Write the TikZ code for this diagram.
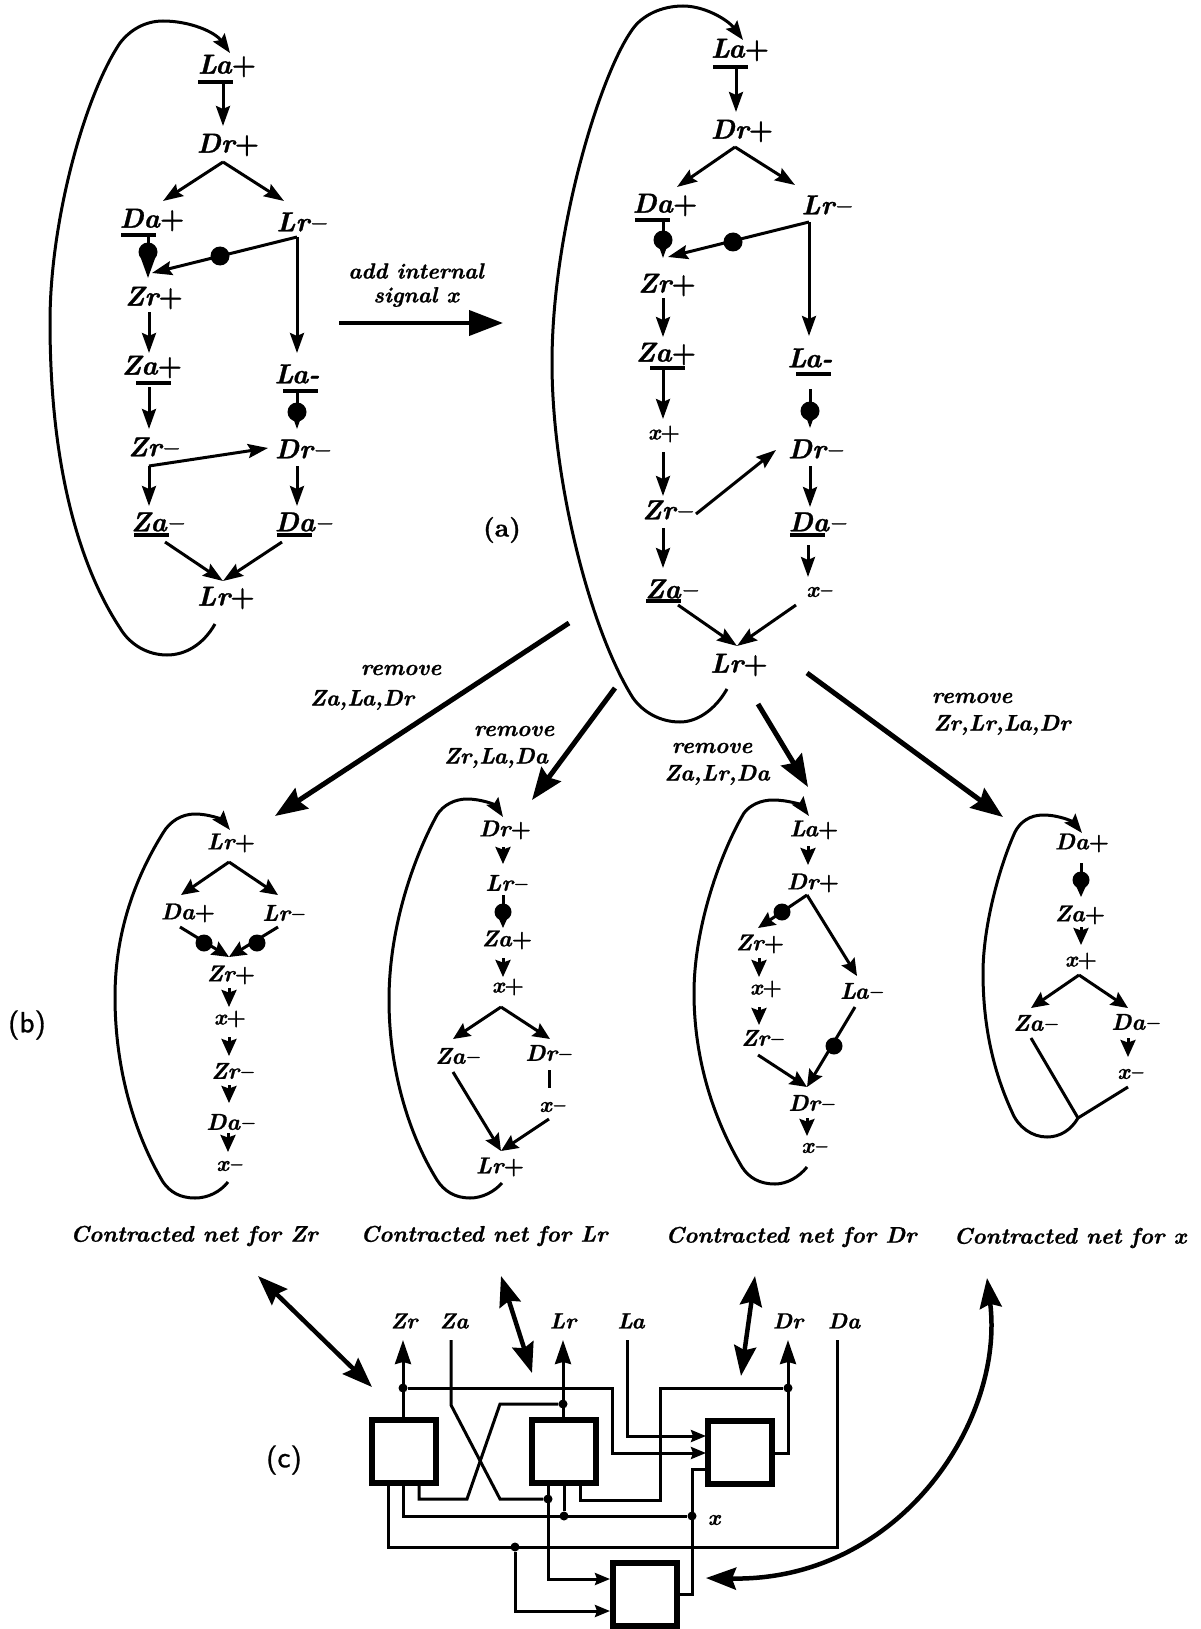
\documentclass[tikz,border=0pt]{standalone}
\usepackage{fontspec}
\usetikzlibrary{arrows.meta}
\newfontface\bxi{lmroman10-bolditalic.otf}[FakeBold=1]
\newfontface\bxu{lmroman10-bold.otf}[FakeBold=1]
\newfontface\ssf{lmsans10-regular.otf}[FakeBold=1]
\newcommand{\Pl}{{\bxu +}}
\newcommand{\Mi}{\textendash}
\tikzset{
  lab/.style={inner sep=0pt,font=\bxi\fontsize{27.5}{27.5}\selectfont},
  nettxt/.style={inner sep=0pt,font=\bxi\fontsize{23}{23}\selectfont},
  smtxt/.style={inner sep=0pt,font=\bxi\fontsize{22}{22}\selectfont},
  remtxt/.style={inner sep=0pt,font=\bxi\fontsize{22.5}{22.5}\selectfont},
  captxt/.style={inner sep=0pt,font=\bxi\fontsize{22.5}{22.5}\selectfont},
  tagtxt/.style={inner sep=0pt,font=\ssf\fontsize{29}{29}\selectfont},
  tagbx/.style={inner sep=0pt,font=\bxu\fontsize{26}{26}\selectfont},
  ul/.style={fill=black,inner sep=0pt,minimum width=35pt,minimum height=3.4pt},
  dotn/.style={circle,fill=black,inner sep=0pt,minimum size=19pt},
  dotm/.style={circle,fill=black,inner sep=0pt,minimum size=17pt},
  jn/.style={circle,fill=black,inner sep=0pt,minimum size=9pt},
  ar/.style={line width=3pt,-{Stealth[length=20pt,width=14pt,inset=3pt]}},
  arn/.style={line width=3pt,-{Stealth[length=17pt,width=15pt,inset=2.5pt]}},
  pl/.style={line width=3pt},
  lp/.style={line width=3pt,-{Stealth[length=19pt,width=14pt,inset=3pt]}},
  bigar/.style={line width=5pt,-{Stealth[length=32pt,width=24pt,inset=4pt]}},
  addar/.style={line width=4pt,-{Stealth[length=34pt,width=25pt,inset=0pt]}},
  dbl/.style={line width=4.5pt,{Stealth[length=30pt,width=22pt,inset=4pt]}-{Stealth[length=30pt,width=22pt,inset=4pt]}},
  wire/.style={line width=3pt},
  wa/.style={line width=3pt,-{Stealth[length=15pt,width=12pt,inset=2pt]}},
  wt/.style={line width=3pt,-{Stealth[length=24pt,width=16pt,inset=2pt]}},
  boxn/.style={draw,line width=6pt,inner sep=0pt,minimum width=64pt,minimum height=63pt},
}
\begin{document}
\begin{tikzpicture}[x=1pt,y=-1pt]
\useasboundingbox (0,0) rectangle (1201,1629);
% ---------- text nodes
\foreach \n/\t/\x/\y in {
 aLaP/La\Pl/227/66, aDrP/Dr\Pl/228/145, aDaP/Da\Pl/152/220, aLrM/Lr\Mi/301/222,
 aZrP/Zr\Pl/154/298, aZaP/Za\Pl/152/367, aLaM/La-/297/374, aZrM/Zr\Mi/153/447,
 aDrM/Dr\Mi/302/449, aZaM/Za\Mi/157/522, aDaM/Da\Mi/303/522, aLrP/Lr\Pl/226/598,
 bLaP/La\Pl/740/50, bDrP/Dr\Pl/742/131, bDaP/Da\Pl/665/205, bLrM/Lr\Mi/826/205,
 bZrP/Zr\Pl/667/285, bZaP/Za\Pl/666/354, bLaM/La-/810/358, bDrM/Dr\Mi/815/449,
 bZrM/Zr\Mi/667/510, bDaM/Da\Mi/817/522, bZaM/Za\Mi/671/589, bLrP/Lr\Pl/739/665}
  \node[lab] (\n) at (\x,\y) {\t};
\foreach \n/\t/\x/\y in {
 cLrP/Lr\Pl/231/843, cDaP/Da\Pl/188/913, cLrM/Lr\Mi/283/913, cZrP/Zr\Pl/231/975,
 cZrM/Zr\Mi/232/1071, cDaM/Da\Mi/230/1122,
 dDrP/Dr\Pl/505/830, dLrM/Lr\Mi/506/883, dZaP/Za\Pl/507/940, dZaM/Za\Mi/457/1056,
 dDrM/Dr\Mi/548/1053, dLrP/Lr\Pl/500/1167,
 eLaP/La\Pl/814/830, eDrP/Dr\Pl/813/883, eZrP/Zr\Pl/760/944, eLaM/La\Mi/861/991,
 eZrM/Zr\Mi/762/1038, eDrM/Dr\Mi/811/1103,
 fDaP/Da\Pl/1082/843, fZaP/Za\Pl/1080/915, fZaM/Za\Mi/1035/1023, fDaM/Da\Mi/1135/1022}
  \node[nettxt] (\n) at (\x,\y) {\t};
\foreach \n/\t/\x/\y in {
 bXP/x\Pl/664/434, bXM/x\Mi/819/592, cXP/x\Pl/230/1019, cXM/x\Mi/229/1166,
 dXP/x\Pl/508/987, dXM/x\Mi/552/1107, eXP/x\Pl/766/989, eXM/x\Mi/814/1148,
 fXP/x\Pl/1081/961, fXM/x\Mi/1130/1074,
 addA/add internal/416/271, addB/signal x/416/297, gx/x/714/1520,
 sZr/Zr/404/1321, sZa/Za/454/1321, sLr/Lr/563/1321, sLa/La/631/1321, sDr/Dr/788/1321, sDa/Da/844/1321}
  \node[smtxt] (\n) at (\x,\y) {\t};
\foreach \n/\t/\x/\y in {
 rA/remove/401/670, rAa/{Za,La,Dr}/362/700, rB/remove/514/731, rBa/{Zr,La,Da}/496/758,
 rC/remove/712/748, rCa/{Za,Lr,Da}/717/775, rD/remove/972/698, rDa/{Zr,Lr,La,Dr}/1002/725}
  \node[remtxt] (\n) at (\x,\y) {\t};
\foreach \n/\t/\x/\y in {
 capZ/Contracted net for Zr/194/1236, capL/Contracted net for Lr/484/1236,
 capD/Contracted net for Dr/791/1237, capX/Contracted net for x/1070/1238}
  \node[captxt] (\n) at (\x,\y) {\t};
\node[tagbx] (tagA) at (502,530) {(a)};
\node[tagtxt] (tagB) at (27,1025) {(b)};
\node[tagtxt] (tagC) at (284,1460) {(c)};
% ---------- underlines (place bars)
\foreach \n/\x/\y in {uA1/215/82, uA2/138/235, uA3/153/383, uA4/300/391, uA5/151/535, uA6/294/535,
 uB1/730/67, uB2/652/220, uB3/667/368, uB4/813/374, uB5/807/535, uB6/663/601}
  \node[ul] (\n) at (\x,\y) {};
% ---------- port coordinates
\foreach \n/\x/\y in {
 p1/223/83, p2/223/126, p3/223/162, p4/163/201, p5/284/201, p6/148/235, p7/148/278,
 p8/297/237, p9/152/273, p10/297/353, p11/149/312, p12/149/353, p13/149/387, p14/149/429,
 p15/149/466, p16/268/448, p17/149/506, p18/297/391, p19/297/429, p20/297/466, p21/297/506,
 p22/165/542, p23/223/581, p24/282/542, p25/339/323, p26/503/323,
 q1/736/67, q2/736/112, q3/735/147, q4/677/187, q5/795/185, q6/663/220, q7/663/258,
 q8/809/222, q9/668/257, q10/809/336, q11/663/298, q12/663/337, q13/663/368, q14/663/419,
 q15/663/452, q16/663/496, q17/663/528, q18/663/568, q19/810/389, q20/810/428, q21/696/514,
 q22/776/450, q23/810/466, q24/810/507, q25/808/545, q26/808/577, q27/678/605, q28/737/646,
 q29/796/605,
 ba1/569/623, ba2/275/816, ba3/615/688, ba4/532/800, ba5/758/704, ba6/808/787, ba7/807/673, ba8/1003/817,
 c1/229/862, c2/181/895, c3/278/895, c4/180/927, c5/229/957, c6/278/927, c7/229/988, c8/229/1007,
 c9/229/1037, c10/229/1056, c11/229/1085, c12/229/1103, c13/228/1133, c14/228/1152,
 d1/503/847, d2/503/864, d3/503/895, d4/503/928, d5/503/958, d6/503/977, d7/501/1007, d8/453/1039,
 d9/550/1039, d10/549/1070, d11/549/1088, d12/453/1072, d13/501/1151, d14/549/1119,
 e1/808/846, e2/808/865, e3/807/895, e4/758/928, e5/857/976, e6/759/958, e7/759/977, e8/759/1007,
 e9/759/1025, e10/855/1007, e11/807/1087, e12/758/1055, e13/807/1118, e14/807/1136,
 f1/1081/863, f2/1081/897, f3/1081/927, f4/1081/945, f5/1079/975, f6/1031/1008, f7/1128/1008,
 f8/1128/1038, f9/1128/1057, f10/1031/1038, f11/1078/1118, f12/1128/1087,
 lAs/215/624, lAe/230/53, lBs/727/689, lBe/743/40, lCs/228/1182, lCe/230/830,
 lDs/502/1183, lDe/503/817, lEs/807/1167, lEe/809/816, lFe/1082/833,
 da1/258/1276, da2/372/1387, da3/501/1276, da4/532/1373, da5/755/1276, da6/741/1376, da7/987/1278, da8/706/1578}
  \coordinate (\n) at (\x,\y);
% ---------- dots on arcs
\foreach \n/\x/\y in {dA1/148/252, dA2/220/256, dA3/297/412, dB1/663/240, dB2/733/242, dB3/810/411}
  \node[dotn] (\n) at (\x,\y) {};
\foreach \n/\x/\y in {dC1/204/943, dC2/257/943, dD1/503/912, dE1/782/912, dE2/834/1046, dF1/1081/880}
  \node[dotm] (\n) at (\x,\y) {};
% ---------- graph (a)
\draw[ar] (p1)--(p2);
\draw[ar] (p3)--(p4); \draw[ar] (p3)--(p5);
\draw[ar] (p6)--(p7);
\draw[ar] (p8)--(p9); \draw[ar] (p8)--(p10);
\draw[ar] (p11)--(p12); \draw[ar] (p13)--(p14);
\draw[ar] (p15)--(p16); \draw[ar] (p15)--(p17);
\draw[ar] (p18)--(p19); \draw[ar] (p20)--(p21);
\draw[ar] (p22)--(p23); \draw[ar] (p24)--(p23);
\draw[lp] (lAs) .. controls (203,645) and (185,655) .. (167,655) .. controls (148,655) and (130,645) .. (120,628) .. controls (85,575) and (50,480) .. (50,322) .. controls (50,220) and (85,95) .. (120,43) .. controls (130,30) and (145,21) .. (163,21) .. controls (190,21) and (215,32) .. (lAe);
\draw[addar] (p25)--(p26);
% ---------- graph (a) with x
\draw[ar] (q1)--(q2);
\draw[ar] (q3)--(q4); \draw[ar] (q3)--(q5);
\draw[ar] (q6)--(q7);
\draw[ar] (q8)--(q9); \draw[ar] (q8)--(q10);
\draw[ar] (q11)--(q12); \draw[ar] (q13)--(q14); \draw[ar] (q15)--(q16); \draw[ar] (q17)--(q18);
\draw[ar] (q19)--(q20); \draw[ar] (q21)--(q22); \draw[ar] (q23)--(q24); \draw[ar] (q25)--(q26);
\draw[ar] (q27)--(q28); \draw[ar] (q29)--(q28);
\draw[lp] (lBs) .. controls (715,710) and (697,722) .. (680,722) .. controls (660,722) and (643,712) .. (633,698) .. controls (590,630) and (552,480) .. (552,363) .. controls (552,230) and (600,75) .. (632,30) .. controls (642,15) and (662,6) .. (683,6) .. controls (705,6) and (728,20) .. (lBe);
% ---------- big arrows
\draw[bigar] (ba1)--(ba2); \draw[bigar] (ba3)--(ba4); \draw[bigar] (ba5)--(ba6); \draw[bigar] (ba7)--(ba8);
% ---------- net Zr
\draw[arn] (c1)--(c2); \draw[arn] (c1)--(c3);
\draw[arn] (c4)--(c5); \draw[arn] (c6)--(c5);
\draw[arn] (c7)--(c8); \draw[arn] (c9)--(c10); \draw[arn] (c11)--(c12); \draw[arn] (c13)--(c14);
\draw[lp] (lCs) .. controls (220,1192) and (208,1198) .. (195,1198) .. controls (180,1198) and (170,1192) .. (163,1182) .. controls (135,1135) and (115,1070) .. (115,997) .. controls (115,925) and (140,870) .. (163,833) .. controls (170,821) and (182,814) .. (195,814) .. controls (210,814) and (222,820) .. (lCe);
% ---------- net Lr
\draw[arn] (d1)--(d2); \draw[arn] (d3)--(d4); \draw[arn] (d5)--(d6);
\draw[arn] (d7)--(d8); \draw[arn] (d7)--(d9);
\draw[pl] (d10)--(d11);
\draw[arn] (d12)--(d13); \draw[arn] (d14)--(d13);
\draw[lp] (lDs) .. controls (494,1192) and (482,1198) .. (470,1198) .. controls (455,1198) and (444,1191) .. (437,1180) .. controls (409,1135) and (389,1070) .. (389,1000) .. controls (389,925) and (415,855) .. (437,815) .. controls (443,805) and (455,799) .. (467,799) .. controls (482,799) and (495,805) .. (lDe);
% ---------- net Dr
\draw[arn] (e1)--(e2);
\draw[arn] (e3)--(e4); \draw[arn] (e3)--(e5);
\draw[arn] (e6)--(e7); \draw[arn] (e8)--(e9);
\draw[arn] (e10)--(e11); \draw[arn] (e12)--(e11); \draw[arn] (e13)--(e14);
\draw[lp] (lEs) .. controls (799,1177) and (787,1184) .. (775,1184) .. controls (760,1184) and (749,1178) .. (742,1167) .. controls (714,1120) and (694,1060) .. (694,993) .. controls (694,925) and (722,850) .. (744,813) .. controls (750,805) and (761,800) .. (773,800) .. controls (788,800) and (801,805) .. (lEe);
% ---------- net x
\draw[arn] (f1)--(f2); \draw[arn] (f3)--(f4);
\draw[arn] (f5)--(f6); \draw[arn] (f5)--(f7); \draw[arn] (f8)--(f9);
\draw[pl] (f10)--(f11); \draw[pl] (f12)--(f11);
\draw[lp] (f11) .. controls (1071,1130) and (1060,1137) .. (1047,1137) .. controls (1032,1137) and (1018,1127) .. (1012,1112) .. controls (995,1075) and (983,1030) .. (983,973) .. controls (983,925) and (1000,865) .. (1015,832) .. controls (1020,822) and (1030,815) .. (1043,815) .. controls (1060,815) and (1073,822) .. (lFe);
% ---------- double arrows
\draw[dbl] (da1)--(da2); \draw[dbl] (da3)--(da4); \draw[dbl] (da5)--(da6);
\draw[dbl] (da7) .. controls (1005,1420) and (900,1582) .. (da8);
% ---------- circuit
\node[boxn] (B1) at (403.5,1451) {};
\node[boxn] (B2) at (564,1451) {};
\node[boxn] (B3) at (740,1452) {};
\node[boxn] (B4) at (644.5,1594.5) {};
\foreach \n/\x/\y in {j1/403/1388, j2/563/1404, j3/788/1388, j4/548/1499, j5/564/1516, j6/692/1516, j7/515/1547}
  \node[jn] (\n) at (\x,\y) {};
\foreach \n/\x/\y in {w1/403/1418, w2/403/1340, w3/612/1388, w4/612/1453, w5/706/1453, w6/451/1340, w7/451/1405,
 w8/500/1499, w9/548/1483, w10/548/1579, w11/610/1579, w12/563/1418, w13/563/1340, w14/500/1404, w15/467/1499,
 w16/419/1499, w17/419/1483, w18/627/1340, w19/627/1436, w20/706/1436, w21/775/1453, w22/788/1453, w23/788/1340,
 w24/660/1388, w25/660/1500, w26/580/1500, w27/580/1483, w28/403/1483, w29/403/1516, w30/564/1483, w31/692/1469,
 w32/706/1469, w33/692/1594, w34/678/1594, w35/388/1483, w36/388/1547, w37/837/1547, w38/837/1340, w39/515/1611, w40/610/1611}
  \coordinate (\n) at (\x,\y);
\draw[wt] (w1)--(w2);
\draw[wt] (w12)--(w13);
\draw[wt] (w21)--(w22)--(w23);
\draw[wa] (j1)--(w3)--(w4)--(w5);
\draw[wire] (w6)--(w7)--(w8)--(j4);
\draw[wa] (w9)--(w10)--(w11);
\draw[wire] (j2)--(w14)--(w15)--(w16)--(w17);
\draw[wa] (w18)--(w19)--(w20);
\draw[wire] (j3)--(w24)--(w25)--(w26)--(w27);
\draw[wire] (w28)--(w29)--(j6);
\draw[wire] (w30)--(j5);
\draw[wire] (w32)--(w31)--(w33)--(w34);
\draw[wire] (w35)--(w36)--(w37)--(w38);
\draw[wa] (j7)--(w39)--(w40);
\end{tikzpicture}
\end{document}
